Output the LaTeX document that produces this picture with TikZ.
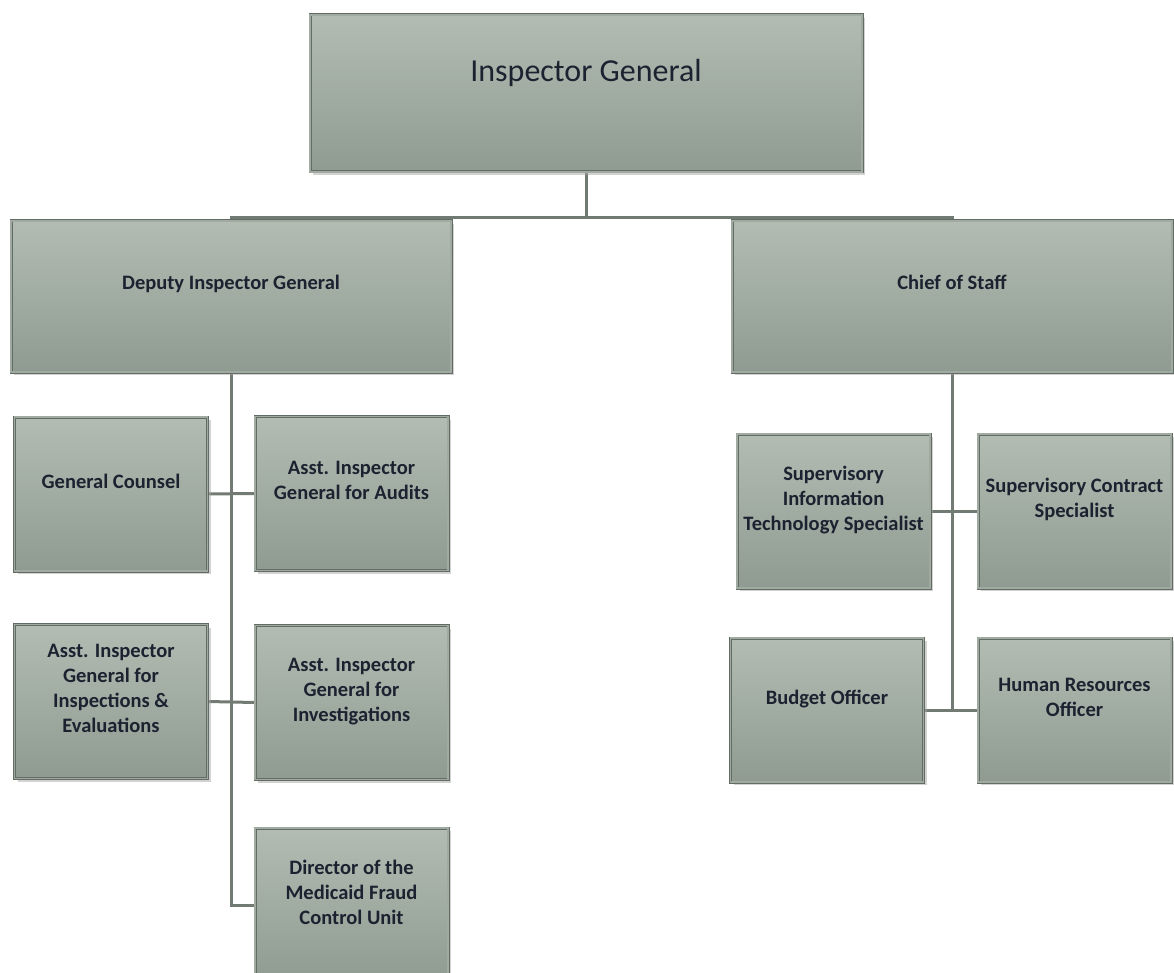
\documentclass[tikz,border=0pt]{standalone}
\usepackage{fontspec}
\setmainfont{Carlito}
\usetikzlibrary{shadows,backgrounds}
\definecolor{boxtop}{HTML}{B2BCB2}
\definecolor{boxbot}{HTML}{8F9B91}
\definecolor{boxline}{HTML}{626C65}
\definecolor{boxrim}{HTML}{A0AAA1}
\definecolor{wire}{HTML}{727A74}
\definecolor{ink}{HTML}{1C2230}

\begin{document}
\begin{tikzpicture}[x=1pt,y=-1pt]
\tikzstyle{office}=[rectangle,draw=boxline,line width=0.9pt,double=boxrim,double distance=1.2pt,top color=boxtop,bottom color=boxbot,drop shadow={shadow xshift=3pt,shadow yshift=-3pt,fill=black!35,opacity=0.5},text=ink,align=center,inner sep=2pt,font=\fontsize{20.5}{25}\selectfont\bfseries]
\tikzstyle{head}=[office,minimum width=552pt,minimum height=157pt,font=\fontsize{32}{38}\selectfont,text depth=46pt]
\tikzstyle{deputy}=[office,minimum width=440pt,minimum height=151pt,text depth=28pt]
\tikzstyle{staff}=[office,minimum width=193pt,minimum height=154pt,text depth=26pt]
\tikzstyle{link}=[draw=wire,line width=3pt]

\useasboundingbox (0,0) rectangle (1174,973);

\node[head] (ig) at (586,93.5) {Inspector General};
\node[deputy] (dig) at (231,296.5) {Deputy Inspector General};
\node[deputy] (cos) at (952,296.5) {Chief of Staff};

\node[staff] (gc) at (111,494) {General Counsel};
\node[staff] (aud) at (351.5,493.5) {Asst. Inspector\\General for Audits};
\node[staff] (ie) at (111,701.5) {Asst. Inspector\\General for\\Inspections \&\\Evaluations};
\node[staff] (inv) at (351.5,702.5) {Asst. Inspector\\General for\\Investigations};
\node[staff] (mfcu) at (351.5,905) {Director of the\\Medicaid Fraud\\Control Unit};

\node[staff] (sit) at (833.5,511) {Supervisory\\Information\\Technology Specialist};
\node[staff] (scs) at (1074.5,511) {Supervisory Contract\\Specialist};
\node[staff,minimum height=144pt] (bud) at (827,710) {Budget Officer};
\node[staff,minimum height=144pt] (hr) at (1074.5,710) {Human Resources\\Officer};

\begin{scope}[on background layer]
	\fill[white] (0,0) rectangle (1174,973);
	\coordinate (bus) at (586,218);
	\draw[link] (ig.south) -- (bus);
	\draw[link] (dig.north) |- (bus) -| (cos.north);
	\draw[link] (dig.south) |- (mfcu.west);
	\draw[link] (gc.east) -- (aud.west);
	\draw[link] (ie.east) -- (inv.west);
	\draw[link] (cos.south) |- (hr.west);
	\draw[link] (sit.east) -- (scs.west);
	\draw[link] (bud.east) -- (hr.west);
\end{scope}
\end{tikzpicture}
\end{document}
